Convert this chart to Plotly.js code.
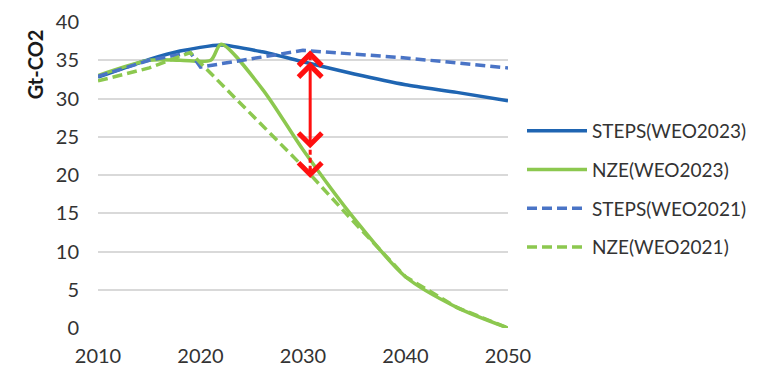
<!DOCTYPE html>
<html>
<head>
<meta charset="utf-8">
<script src="https://cdn.plot.ly/plotly-3.0.1.min.js"></script>
<style>html,body{margin:0;padding:0;background:#fff;}#chart{width:768px;height:375px;}</style>
</head>
<body>
<div id="chart"></div>
<script>
// ---- data ----
const stepsNewYears = [2010, 2015, 2018, 2022, 2026, 2030, 2035, 2040, 2045, 2050];
const stepsNewVals  = [32.8, 35.1, 36.2, 37.0, 36.1, 34.8, 33.2, 31.8, 30.8, 29.7];

const nzeNewYears = [2010, 2015, 2018, 2021, 2022, 2026, 2030, 2035, 2040, 2045, 2050];
const nzeNewVals  = [33.0, 35.0, 35.0, 35.0, 37.1, 31.3, 23.3, 14.3, 6.7, 2.7, 0.0];

const stepsOldYears = [2010, 2015, 2019, 2020, 2030, 2040, 2050];
const stepsOldVals  = [32.9, 35.0, 36.0, 34.1, 36.3, 35.3, 34.0];

const nzeOldYears = [2010, 2015, 2019, 2030, 2035, 2040, 2045, 2050];
const nzeOldVals  = [32.3, 34.0, 36.0, 21.1, 13.8, 6.7, 2.7, 0.0];

const seriesNames = ['STEPS(WEO2023)', 'NZE(WEO2023)', 'STEPS(WEO2021)', 'NZE(WEO2021)'];
const yTicks = [0, 5, 10, 15, 20, 25, 30, 35, 40];
const xTicks = [2010, 2020, 2030, 2040, 2050];
const gapYear = 2030;

// ---- styles ----
const BLUE = '#1f65b2', BLUE2 = '#4a74c6', GREEN = '#8cc84f', RED = '#ff1010';
const FONT = 'Lato, "Open Sans", sans-serif';

function valAt(xs, ys, x) { return ys[xs.indexOf(x)]; }

const traces = [
  {x: stepsNewYears, y: stepsNewVals, name: seriesNames[0], mode: 'lines',
   line: {color: BLUE, width: 3.5, shape: 'spline', smoothing: 0.6}, legendgroup: 'a'},
  {x: nzeNewYears, y: nzeNewVals, name: seriesNames[1], mode: 'lines',
   line: {color: GREEN, width: 3.5, shape: 'spline', smoothing: 0.8}, legendgroup: 'b'},
  {x: stepsOldYears, y: stepsOldVals, name: seriesNames[2], mode: 'lines',
   line: {color: BLUE2, width: 3.5, dash: '10px,5px', shape: 'linear'}, legendgroup: 'c'},
  {x: nzeOldYears, y: nzeOldVals, name: seriesNames[3], mode: 'lines',
   line: {color: GREEN, width: 3.5, dash: '10px,5px', shape: 'linear'}, legendgroup: 'd'}
];

const ax = gapYear + 0.7;
const sNew = valAt(stepsNewYears, stepsNewVals, gapYear);
const nNew = valAt(nzeNewYears, nzeNewVals, gapYear);
const sOld = valAt(stepsOldYears, stepsOldVals, gapYear);
const nOld = valAt(nzeOldYears, nzeOldVals, gapYear);

const arrowBase = {xref: 'x', yref: 'y', axref: 'x', ayref: 'y', text: '', showarrow: true,
  arrowcolor: RED, arrowwidth: 3, arrowhead: 4, startarrowhead: 4, arrowsize: 1.5, startarrowsize: 1.5};

const annotations = [
  Object.assign({}, arrowBase, {x: ax, y: sNew, ax: ax, ay: nNew, arrowside: 'end+start'}),
  Object.assign({}, arrowBase, {x: ax, y: sOld, ax: ax, ay: sNew, arrowside: 'end'}),
  Object.assign({}, arrowBase, {x: ax, y: nOld - 1.5, ax: ax, ay: nOld, arrowside: 'end'}),
  {xref: 'paper', yref: 'paper', x: -0.155, y: 0.863, text: '<b>Gt-CO2</b>', showarrow: false,
   textangle: -90, xanchor: 'center', yanchor: 'middle', font: {family: FONT, size: 20, color: '#1a1a1a'}}
];

const shapes = [
  {type: 'line', xref: 'x', yref: 'y', x0: ax, x1: ax, y0: nNew, y1: nOld - 0.4,
   line: {color: RED, width: 3, dash: '5px,3px'}}
];

const layout = {
  width: 768, height: 375,
  margin: {l: 98, r: 260, t: 22, b: 47},
  paper_bgcolor: '#fff', plot_bgcolor: '#fff',
  font: {family: FONT, size: 20, color: '#333'},
  xaxis: {range: [2010, 2050], tickvals: xTicks, ticktext: xTicks.map(String),
    showgrid: false, zeroline: false, showline: false, ticks: '', ticklabelstandoff: 14,
    tickfont: {family: FONT, size: 20, color: '#333'}},
  yaxis: {range: [0, 40], tickvals: yTicks, ticktext: yTicks.map(String),
    showgrid: true, gridcolor: '#d9d9d9', gridwidth: 2, zeroline: false, showline: false,
    ticks: '', ticklabelstandoff: 18, tickfont: {family: FONT, size: 20, color: '#333'}},
  legend: {xref: 'container', yref: 'container', x: 522/768, y: 1 - 112/375,
    xanchor: 'left', yanchor: 'top', bgcolor: 'rgba(0,0,0,0)', itemwidth: 60,
    tracegroupgap: 11, font: {family: FONT, size: 19, color: '#333'}, traceorder: 'grouped'},
  annotations: annotations,
  shapes: shapes,
  showlegend: true
};

Plotly.newPlot('chart', traces, layout, {displayModeBar: false, staticPlot: true});
</script>
</body>
</html>
